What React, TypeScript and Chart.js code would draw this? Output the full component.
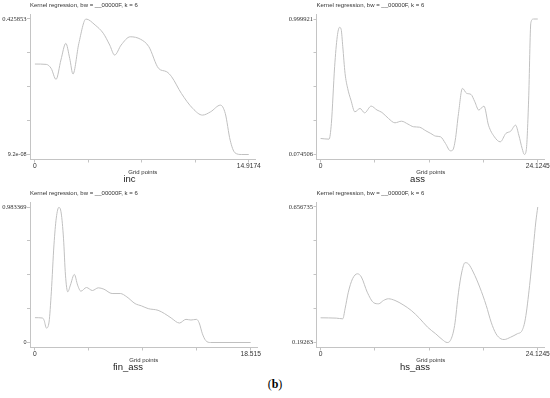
import React, { useEffect, useRef } from "react";
import { Chart, registerables } from "chart.js";

Chart.register(...registerables);

// ---------- text ----------
const CHART_TITLE = "Kernel regression, bw = __00000F, k = 6";
const X_AXIS_TITLE = "Grid points";
const FIGURE_LABEL = "b";

// ---------- inc ----------
const incName = "inc";
const incX = [0, 0.795, 1.135, 1.476, 1.817, 2.157, 2.43, 2.657, 3.065, 3.565, 4.2, 4.77, 5.22, 5.563, 6.017, 6.653, 7.38, 7.947, 8.63, 9.196, 9.537, 10.218, 11.013, 11.69, 12.26, 12.94, 13.28, 13.62, 13.96, 14.42, 14.9174];
const incY = [0.2843, 0.2832, 0.2706, 0.236, 0.297, 0.3493, 0.302, 0.2528, 0.349, 0.4258, 0.407, 0.381, 0.344, 0.3125, 0.344, 0.37, 0.362, 0.339, 0.2706, 0.26, 0.2444, 0.192, 0.1447, 0.1238, 0.1343, 0.1552, 0.129, 0.0451, 0.0052, 0.0000001, 0.0000001];
const incXRange = [0, 14.9174];
const incYRange = [9.2e-8, 0.425853];
const incXTickLabels = ["0", "14.9174"];
const incYTickLabels = ["9.2e-08", "0.425853"];

// ---------- ass ----------
const assName = "ass";
const assX = [0, 0.942, 1.195, 1.558, 1.847, 2.101, 2.282, 2.463, 2.717, 3.006, 3.369, 3.803, 4.383, 4.89, 5.615, 6.267, 6.81, 7.534, 8.259, 8.983, 9.708, 10.323, 10.975, 11.7, 12.243, 12.787, 13.33, 13.874, 14.417, 14.67, 14.96, 15.32, 15.757, 16.228, 16.7, 17.13, 17.57, 18.15, 18.65, 19.307, 19.96, 20.577, 21.12, 21.66, 22.02, 22.39, 22.64, 22.856, 23.11, 23.36, 23.65, 24.1245];
const assY = [0.1839, 0.1794, 0.2865, 0.674, 0.879, 0.943, 0.929, 0.811, 0.628, 0.526, 0.446, 0.366, 0.389, 0.359, 0.405, 0.378, 0.362, 0.321, 0.291, 0.302, 0.282, 0.264, 0.261, 0.236, 0.218, 0.2, 0.195, 0.15, 0.0996, 0.1041, 0.1725, 0.355, 0.526, 0.492, 0.485, 0.435, 0.378, 0.405, 0.275, 0.1953, 0.161, 0.218, 0.234, 0.275, 0.207, 0.1155, 0.0746, 0.1087, 0.446, 0.975, 0.9999, 0.9999];
const assXRange = [0, 24.1245];
const assYRange = [0.074506, 0.999921];
const assXTickLabels = ["0", "24.1245"];
const assYTickLabels = ["0.074506", "0.999921"];

// ---------- fin_ass ----------
const finName = "fin_ass";
const finX = [0, 0.648, 0.789, 0.986, 1.212, 1.409, 1.634, 1.832, 2.057, 2.254, 2.452, 2.621, 2.818, 3.044, 3.382, 3.664, 3.945, 4.424, 4.932, 5.439, 5.918, 6.623, 7.327, 7.891, 8.595, 9.159, 9.723, 10.568, 11.131, 11.695, 12.4, 12.963, 13.386, 13.865, 14.09, 14.372, 14.654, 15.077, 18.515];
const finY = [0.1801, 0.1777, 0.1606, 0.1047, 0.1485, 0.3675, 0.7083, 0.903, 0.981, 0.9396, 0.757, 0.489, 0.3675, 0.4162, 0.4941, 0.4162, 0.3724, 0.3992, 0.3773, 0.3968, 0.387, 0.3554, 0.3554, 0.331, 0.2824, 0.2653, 0.2458, 0.2337, 0.2093, 0.1777, 0.1412, 0.168, 0.1631, 0.168, 0.1436, 0.0633, 0.0146, 0, 0];
const finXRange = [0, 18.515];
const finYRange = [0, 0.983369];
const finXTickLabels = ["0", "18.515"];
const finYTickLabels = ["0", "0.983369"];

// ---------- hs_ass ----------
const hsName = "hs_ass";
const hsX = [0, 1.739, 2.463, 2.717, 3.079, 3.55, 4.093, 4.528, 5.18, 5.904, 6.448, 6.991, 7.534, 8.259, 9.164, 10.07, 10.975, 11.881, 12.787, 13.51, 14.054, 14.417, 14.888, 15.322, 15.685, 16.047, 16.409, 16.952, 17.677, 18.4, 18.945, 19.488, 20.03, 20.39, 21.118, 21.842, 22.386, 22.748, 23.219, 23.654, 23.907, 24.1245];
const hsY = [0.2772, 0.2761, 0.2738, 0.308, 0.365, 0.411, 0.428, 0.417, 0.365, 0.3287, 0.3252, 0.3367, 0.3424, 0.3367, 0.3218, 0.3024, 0.276, 0.2452, 0.2224, 0.2029, 0.1926, 0.1995, 0.2509, 0.365, 0.434, 0.466, 0.4624, 0.434, 0.3824, 0.3195, 0.2624, 0.2224, 0.2052, 0.2029, 0.2109, 0.2224, 0.2338, 0.2738, 0.3881, 0.5253, 0.6053, 0.6567];
const hsXRange = [0, 24.1245];
const hsYRange = [0.19263, 0.656735];
const hsXTickLabels = ["0", "24.1245"];
const hsYTickLabels = ["0.19263", "0.656735"];

// ---------- styling / layout ----------
const AXIS_COLOR = "#c4c4c4";
const LINE_COLOR = "#c0c0c0";
const TEXT_COLOR = "#333333";
const SANS = "'Liberation Sans', Arial, sans-serif";
const SERIF = "'Liberation Serif', 'Times New Roman', serif";

// vertical geometry relative to canvas top
const AREA_TOP = 15;
const AREA_BOTTOM = 159.5;
const VAL_TOP = 19;
const VAL_BOTTOM = 154.5;
const CANVAS_H = 186;

type PanelLayout = {
  left: number;
  top: number;
  width: number;
  padLeft: number;
  axisX: number;
  x0: number;
  x1: number;
  areaRight: number;
};

type PanelProps = {
  name: string;
  xs: number[];
  ys: number[];
  xRange: number[];
  yRange: number[];
  xLabels: string[];
  yLabels: string[];
  layout: PanelLayout;
};

function Panel({ name, xs, ys, xRange, yRange, xLabels, yLabels, layout }: PanelProps) {
  const ref = useRef<HTMLCanvasElement | null>(null);

  useEffect(() => {
    if (!ref.current) return;
    const [xa, xb] = xRange;
    const [ya, yb] = yRange;
    const pxX = (layout.x1 - layout.x0) / (xb - xa);
    const xMin = xa - (layout.x0 - layout.axisX) / pxX;
    const xMax = xb + (layout.areaRight - layout.x1) / pxX;
    const pxY = (VAL_BOTTOM - VAL_TOP) / (yb - ya);
    const yMin = ya - (AREA_BOTTOM - VAL_BOTTOM) / pxY;
    const yMax = yb + (VAL_TOP - AREA_TOP) / pxY;
    const yScaleW = layout.axisX - layout.left - layout.padLeft;
    const padRight = layout.left + layout.width - layout.areaRight;

    const points = xs.map((x, i) => ({ x, y: ys[i] }));

    const chart = new Chart(ref.current, {
      type: "line",
      data: {
        datasets: [
          {
            data: points,
            borderColor: LINE_COLOR,
            borderWidth: 1,
            pointRadius: 0,
            fill: false,
            tension: 0.4,
            cubicInterpolationMode: "monotone",
          },
        ],
      },
      options: {
        animation: false,
        responsive: false,
        devicePixelRatio: 1,
        events: [],
        layout: {
          autoPadding: false,
          padding: { left: layout.padLeft, right: padRight, top: 0, bottom: CANVAS_H - 183.2 },
        },
        plugins: {
          legend: { display: false },
          tooltip: { enabled: false },
          title: {
            display: true,
            text: CHART_TITLE,
            position: "top",
            align: "start",
            fullSize: false,
            color: TEXT_COLOR,
            font: { family: SANS, size: 6, weight: "normal", lineHeight: 1.2 },
            padding: { top: 1.4, bottom: AREA_TOP - 1.4 - 7.2 },
          },
          subtitle: {
            display: true,
            text: name,
            position: "bottom",
            align: "center",
            fullSize: true,
            color: "#222222",
            font: { family: SANS, size: 9.5, weight: "normal", lineHeight: 0.8 },
            padding: { top: 0, bottom: 0 },
          },
        },
        scales: {
          x: {
            type: "linear",
            min: xMin,
            max: xMax,
            afterBuildTicks: (s: any) => {
              s.ticks = [0, 1, 2, 3, 4].map((i) => ({ value: xa + ((xb - xa) * i) / 4 }));
            },
            afterFit: (s: any) => {
              s.height = 16.1;
            },
            ticks: {
              autoSkip: false,
              maxRotation: 0,
              padding: 0,
              color: TEXT_COLOR,
              font: { family: SANS, size: 6.7, lineHeight: 1 },
              callback: (_v: any, i: number) => (i === 0 ? xLabels[0] : i === 4 ? xLabels[1] : ""),
            },
            grid: { drawOnChartArea: false, drawTicks: true, tickLength: 3, color: AXIS_COLOR, lineWidth: 1 },
            border: { display: true, color: AXIS_COLOR, width: 1 },
            title: {
              display: true,
              text: X_AXIS_TITLE,
              color: TEXT_COLOR,
              font: { family: SANS, size: 6, lineHeight: 1.2 },
              padding: { top: 0, bottom: 0 },
            },
          },
          y: {
            type: "linear",
            min: yMin,
            max: yMax,
            afterBuildTicks: (s: any) => {
              s.ticks = [0, 1, 2, 3, 4].map((i) => ({ value: ya + ((yb - ya) * i) / 4 }));
            },
            afterFit: (s: any) => {
              s.width = yScaleW;
            },
            ticks: {
              autoSkip: false,
              padding: 0.5,
              color: TEXT_COLOR,
              font: (ctx: any) => {
                const lbl = ctx.tick && ctx.tick.label ? String(ctx.tick.label) : "";
                return lbl.startsWith("0.")
                  ? { family: SERIF, size: 6.5, lineHeight: 1 }
                  : { family: SANS, size: 5.5, lineHeight: 1 };
              },
              callback: (_v: any, i: number) => (i === 0 ? yLabels[0] : i === 4 ? yLabels[1] : ""),
            },
            grid: { drawOnChartArea: false, drawTicks: true, tickLength: 3, color: AXIS_COLOR, lineWidth: 1 },
            border: { display: true, color: AXIS_COLOR, width: 1 },
          },
        },
      },
    } as any);
    return () => chart.destroy();
  }, []);

  return (
    <canvas
      ref={ref}
      width={layout.width}
      height={CANVAS_H}
      style={{ position: "absolute", left: layout.left, top: layout.top, width: layout.width, height: CANVAS_H }}
    />
  );
}

const layoutInc: PanelLayout = { left: -2, top: 0, width: 263, padLeft: 0, axisX: 30, x0: 35, x1: 254, areaRight: 261 };
const layoutAss: PanelLayout = { left: 280, top: 0, width: 270, padLeft: 5, axisX: 316.5, x0: 320.7, x1: 542.7, areaRight: 550 };
const layoutFin: PanelLayout = { left: -5, top: 188, width: 266, padLeft: 0, axisX: 30, x0: 35, x1: 254, areaRight: 261 };
const layoutHs: PanelLayout = { left: 275, top: 188, width: 275, padLeft: 5, axisX: 316.5, x0: 320.7, x1: 542.7, areaRight: 550 };

export default function App() {
  return (
    <div style={{ position: "absolute", left: 0, top: 0, width: 550, height: 398, background: "#ffffff", overflow: "hidden" }}>
      <Panel name={incName} xs={incX} ys={incY} xRange={incXRange} yRange={incYRange} xLabels={incXTickLabels} yLabels={incYTickLabels} layout={layoutInc} />
      <Panel name={assName} xs={assX} ys={assY} xRange={assXRange} yRange={assYRange} xLabels={assXTickLabels} yLabels={assYTickLabels} layout={layoutAss} />
      <Panel name={finName} xs={finX} ys={finY} xRange={finXRange} yRange={finYRange} xLabels={finXTickLabels} yLabels={finYTickLabels} layout={layoutFin} />
      <Panel name={hsName} xs={hsX} ys={hsY} xRange={hsXRange} yRange={hsYRange} xLabels={hsXTickLabels} yLabels={hsYTickLabels} layout={layoutHs} />
      <div
        style={{
          position: "absolute",
          left: 0,
          width: 550,
          top: 377,
          textAlign: "center",
          fontFamily: SERIF,
          fontSize: 12,
          lineHeight: "15px",
          color: "#000000",
        }}
      >
        (<b>{FIGURE_LABEL}</b>)
      </div>
    </div>
  );
}
